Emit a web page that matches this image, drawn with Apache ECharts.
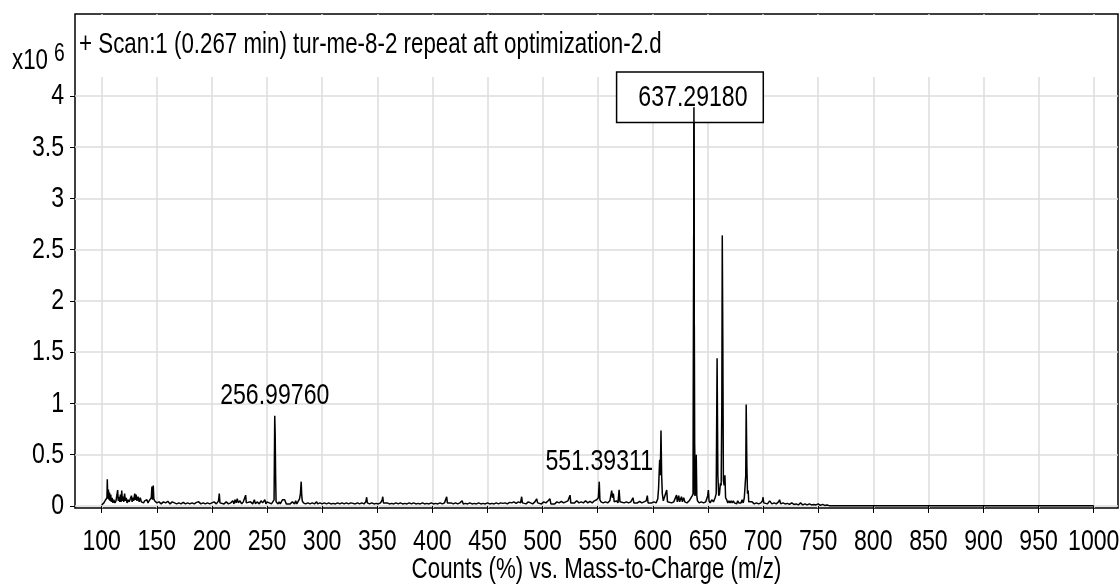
<!DOCTYPE html>
<html>
<head>
<meta charset="utf-8">
<script src="https://cdn.jsdelivr.net/npm/echarts@6/dist/echarts.min.js"></script>
<style>
  html, body { margin: 0; padding: 0; background: #fff; }
  #chart { width: 1120px; height: 587px; }
</style>
</head>
<body>
<div id="chart"></div>
<script>
// Mass spectrum, scan 1: counts (x10^6) against m/z
const FONT = '"Liberation Sans", Arial, sans-serif';

const mzTicks = [100, 150, 200, 250, 300, 350, 400, 450, 500, 550, 600, 650, 700, 750, 800, 850, 900, 950, 1000];
const countTicks = [0, 0.5, 1, 1.5, 2, 2.5, 3, 3.5, 4];
const annotatedPeaks = [256.99760, 551.39311];
const basePeak = 637.29180;

// profile points: [m/z, counts x10^6]
const profile = [
  [100, 0.01], [101, 0.02], [102, 0.03], [103, 0.05], [104, 0.04], [104.8, 0.08], [105.1, 0.26], [105.5, 0.07],
  [106.1, 0.16], [106.6, 0.06], [107.1, 0.13], [107.6, 0.05], [108.2, 0.11], [108.8, 0.04], [109.5, 0.08], [110.2, 0.03],
  [111, 0.06], [112, 0.03], [113, 0.05], [113.8, 0.04], [114.5, 0.155], [115, 0.05], [115.8, 0.09], [116.4, 0.04],
  [117, 0.11], [117.6, 0.04], [118.2, 0.15], [118.7, 0.05], [119.3, 0.09], [120, 0.04], [120.8, 0.12], [121.5, 0.05],
  [122.3, 0.08], [123, 0.03], [124, 0.06], [125, 0.04], [126, 0.05], [127, 0.1], [127.6, 0.04], [128.3, 0.08],
  [129, 0.05], [130, 0.12], [130.6, 0.06], [131.2, 0.11], [132, 0.05], [133, 0.09], [134, 0.04], [135, 0.08],
  [136, 0.04], [137, 0.05], [138, 0.03], [139, 0.05], [140, 0.04], [141, 0.06], [142, 0.03], [143, 0.05],
  [144, 0.04], [145, 0.08], [145.6, 0.19], [146.1, 0.06], [146.8, 0.2], [147.3, 0.07], [148, 0.05], [149, 0.04],
  [150, 0.03], [152, 0.04], [154, 0.02], [156, 0.04], [158, 0.03], [160, 0.045], [162, 0.02], [164, 0.04],
  [166, 0.03], [168, 0.02], [170, 0.03], [172, 0.02], [174, 0.035], [176, 0.02], [178, 0.03], [180, 0.02],
  [182, 0.03], [184, 0.02], [186, 0.035], [188, 0.04], [190, 0.02], [192, 0.03], [194, 0.02], [196, 0.03],
  [198, 0.02], [200, 0.03], [202, 0.04], [204, 0.02], [206, 0.05], [206.7, 0.12], [207.3, 0.03], [209, 0.03],
  [211, 0.02], [213, 0.04], [215, 0.02], [217, 0.03], [219, 0.05], [220, 0.02], [221, 0.06], [222, 0.03],
  [223, 0.07], [224, 0.03], [225.5, 0.05], [227, 0.02], [228.5, 0.04], [230, 0.03], [230.6, 0.105], [231.2, 0.03],
  [233, 0.02], [235, 0.04], [237, 0.02], [238.5, 0.06], [239.5, 0.02], [241, 0.04], [243, 0.02], [244.5, 0.05],
  [246, 0.03], [248, 0.06], [249, 0.02], [250, 0.04], [252, 0.03], [254, 0.02], [255.5, 0.03], [256.4, 0.06],
  [256.99760, 0.88], [257.4, 0.7], [257.8, 0.3], [258.2, 0.04], [259, 0.03], [260, 0.02], [261, 0.04], [262, 0.02],
  [263, 0.04], [264, 0.06], [265, 0.06], [266, 0.06], [267, 0.06], [267.5, 0.02], [269, 0.03], [271, 0.02],
  [273, 0.04], [275, 0.02], [276, 0.05], [277, 0.02], [278.5, 0.05], [279.5, 0.07], [280.3, 0.12], [281, 0.237],
  [281.5, 0.1], [282, 0.05], [283, 0.03], [285, 0.02], [287, 0.03], [289, 0.02], [291, 0.03], [293, 0.02],
  [295, 0.04], [296, 0.02], [298, 0.03], [300, 0.02], [302, 0.03], [304, 0.02], [306, 0.03], [308, 0.02],
  [310, 0.025], [312, 0.02], [314, 0.03], [316, 0.02], [318, 0.03], [320, 0.02], [322, 0.03], [324, 0.02],
  [326, 0.03], [328, 0.025], [330, 0.02], [332, 0.03], [334, 0.02], [336, 0.03], [338, 0.02], [339.6, 0.04],
  [340.4, 0.085], [341, 0.03], [343, 0.02], [345, 0.03], [347, 0.02], [349, 0.025], [351, 0.02], [353, 0.03],
  [354.5, 0.06], [355, 0.09], [355.6, 0.03], [357, 0.02], [359, 0.03], [361, 0.02], [363, 0.025], [365, 0.02],
  [367, 0.03], [369, 0.02], [371, 0.03], [373, 0.02], [375, 0.025], [377, 0.02], [379, 0.03], [381, 0.02],
  [383, 0.03], [385, 0.02], [387, 0.025], [389, 0.02], [391, 0.03], [393, 0.02], [395, 0.025], [397, 0.02],
  [399, 0.03], [401, 0.02], [403, 0.025], [405, 0.02], [407, 0.03], [409, 0.02], [411, 0.03], [412.4, 0.04],
  [413, 0.09], [413.6, 0.03], [415, 0.02], [417, 0.03], [419, 0.02], [421, 0.03], [423, 0.02], [425, 0.03],
  [427, 0.05], [428, 0.02], [430, 0.025], [432, 0.02], [434, 0.03], [436, 0.02], [438, 0.025], [440, 0.02],
  [442, 0.03], [444, 0.02], [446, 0.025], [448, 0.02], [450, 0.03], [452, 0.02], [454, 0.025], [456, 0.02],
  [458, 0.03], [460, 0.02], [462, 0.03], [464, 0.025], [466, 0.03], [468, 0.02], [470, 0.035], [472, 0.03],
  [474, 0.04], [476, 0.025], [478, 0.04], [480, 0.03], [481, 0.09], [481.7, 0.03], [483, 0.04], [485, 0.02],
  [487, 0.04], [489, 0.03], [491, 0.02], [493, 0.04], [494.6, 0.07], [495.5, 0.03], [497, 0.04], [499, 0.02],
  [501, 0.04], [503, 0.03], [505, 0.05], [506.7, 0.07], [507.5, 0.02], [509, 0.03], [511, 0.02], [513, 0.04],
  [515, 0.03], [517, 0.045], [519, 0.03], [521, 0.04], [523, 0.05], [524.9, 0.105], [525.6, 0.03], [527, 0.04],
  [529, 0.03], [531, 0.05], [533, 0.03], [535, 0.04], [537, 0.03], [539, 0.05], [541, 0.03], [543, 0.045],
  [545, 0.03], [547, 0.05], [549, 0.06], [550.6, 0.08], [551.39311, 0.237], [552, 0.06], [553, 0.04], [555, 0.03],
  [557, 0.04], [559, 0.03], [561, 0.05], [562.7, 0.15], [563.4, 0.08], [564.2, 0.12], [565, 0.04], [567, 0.05],
  [568.4, 0.03], [569.4, 0.157], [570.2, 0.04], [572, 0.05], [574, 0.03], [576, 0.04], [578, 0.03], [580, 0.04],
  [582, 0.08], [582.8, 0.03], [584, 0.04], [586, 0.03], [588, 0.045], [590, 0.03], [592, 0.04], [594, 0.05],
  [595, 0.1], [595.7, 0.03], [597, 0.04], [599, 0.03], [601, 0.04], [603, 0.03], [604.5, 0.07], [605.2, 0.17],
  [606.2, 0.45], [606.8, 0.3], [607.4, 0.735], [608, 0.3], [608.6, 0.12], [609.5, 0.05], [611, 0.04], [612.6, 0.156],
  [613.3, 0.04], [615, 0.05], [617, 0.03], [619, 0.04], [621.5, 0.107], [622.2, 0.04], [623.5, 0.1], [624.3, 0.04],
  [626, 0.09], [626.8, 0.04], [628, 0.08], [629, 0.04], [631, 0.03], [633, 0.05], [634.5, 0.04], [635.8, 0.1],
  [636.7, 0.12], [637.29180, 3.89], [637.8, 0.6], [638.3, 0.1], [638.9, 0.2], [639.4, 0.5], [639.9, 0.1], [640.5, 0.05],
  [642, 0.03], [644, 0.04], [646, 0.03], [648, 0.04], [649.8, 0.1], [650.4, 0.156], [651, 0.05], [652, 0.03],
  [653.5, 0.06], [655, 0.04], [656.5, 0.08], [657.5, 0.12], [658.3, 1.44], [659, 0.3], [659.8, 0.1], [660.5, 0.12],
  [661.3, 0.22], [662, 0.2], [662.6, 1.0], [663, 2.64], [663.5, 1.6], [664, 0.25], [664.7, 0.2], [665.4, 0.3],
  [666, 0.08], [667, 0.06], [668, 0.03], [669, 0.05], [670, 0.03], [671, 0.05], [672, 0.03], [673, 0.05],
  [674, 0.03], [675, 0.04], [676, 0.02], [677, 0.05], [678, 0.03], [679, 0.04], [680, 0.03], [681, 0.06],
  [682, 0.03], [683, 0.08], [684.3, 0.3], [684.7, 0.99], [685.3, 0.4], [685.9, 0.12], [686.5, 0.15], [687, 0.04],
  [688, 0.03], [690, 0.04], [692, 0.02], [694, 0.03], [696, 0.02], [698, 0.03], [699.5, 0.05], [700, 0.085],
  [700.6, 0.03], [702, 0.04], [704, 0.02], [706, 0.05], [708, 0.02], [710, 0.03], [712, 0.02], [714, 0.04],
  [715, 0.06], [716, 0.02], [718, 0.03], [720, 0.02], [722, 0.025], [724, 0.015], [726, 0.03], [728, 0.015],
  [730, 0.02], [732, 0.01], [734, 0.03], [736, 0.01], [738, 0.02], [740, 0.01], [742, 0.02], [744, 0.01],
  [746, 0.015], [748, 0.01], [750, 0.02], [752, 0.005], [754, 0.015], [756, 0.005], [758, 0.01], [760, 0.003],
  [770, 0.002], [771, 0.012], [772, 0.002], [780, 0.002], [781, 0.01], [782, 0.002], [789, 0.002], [790, 0.01],
  [791, 0.002], [795, 0.002], [796, 0.012], [797, 0.002], [815, 0.002], [816, 0.01], [817, 0.002], [918, 0.002],
  [919.5, 0.015], [921, 0.002], [1000, 0.002]
];

// Narrow lettering: every canvas text run is drawn and measured condensed horizontally
const TEXT_STRETCH = 0.77;
(function condenseCanvasText() {
  const proto = CanvasRenderingContext2D.prototype;
  const fill = proto.fillText;
  const stroke = proto.strokeText;
  const measure = proto.measureText;
  proto.fillText = function (text, x, y) {
    this.save();
    this.translate(x, y);
    this.scale(TEXT_STRETCH, 1);
    fill.call(this, text, 0, 0);
    this.restore();
  };
  proto.strokeText = function (text, x, y) {
    this.save();
    this.translate(x, y);
    this.scale(TEXT_STRETCH, 1);
    stroke.call(this, text, 0, 0);
    this.restore();
  };
  proto.measureText = function (text) {
    const m = measure.call(this, text);
    return {
      width: m.width * TEXT_STRETCH,
      actualBoundingBoxLeft: m.actualBoundingBoxLeft * TEXT_STRETCH,
      actualBoundingBoxRight: m.actualBoundingBoxRight * TEXT_STRETCH,
      actualBoundingBoxAscent: m.actualBoundingBoxAscent,
      actualBoundingBoxDescent: m.actualBoundingBoxDescent,
      fontBoundingBoxAscent: m.fontBoundingBoxAscent,
      fontBoundingBoxDescent: m.fontBoundingBoxDescent
    };
  };
})();

const findPoint = mz => profile.find(p => p[0] === mz);

const peakLabel = {
  show: true,
  position: 'top',
  distance: 8,
  color: '#000',
  fontFamily: FONT,
  fontSize: 30,
  formatter: p => p.data.coord[0].toFixed(5)
};

const markData = annotatedPeaks.map(mz => ({ coord: findPoint(mz), label: peakLabel }));
markData.push({
  coord: findPoint(basePeak),
  label: Object.assign({}, peakLabel, {
    position: 'inside',
    offset: [-4, -10],
    lineHeight: 30,
    backgroundColor: '#fff',
    borderColor: '#000',
    borderWidth: 1.5,
    padding: [9, 15, 10, 21]
  })
});

// the tallest peak is redrawn on top so its line crosses the label box
const peakOverlay = profile.filter(p => p[0] > 636 && p[0] < 638.5);

const chart = echarts.init(document.getElementById('chart'), null, { renderer: 'canvas' });

chart.setOption({
  animation: false,
  backgroundColor: '#fff',
  textStyle: { fontFamily: FONT },
  title: {
    text: '+ Scan:1 (0.267 min) tur-me-8-2 repeat aft optimization-2.d',
    left: 79,
    top: 34,
    padding: 0,
    z: 10,
    textStyle: { fontFamily: FONT, fontSize: 29, fontWeight: 'normal', color: '#000' }
  },
  grid: {
    left: 75, right: 2, top: 14, bottom: 79,
    outerBoundsMode: 'none',
    containLabel: false,
    show: true,
    borderColor: '#000',
    borderWidth: 1.5,
    backgroundColor: 'transparent'
  },
  xAxis: {
    type: 'value',
    min: 75.8,
    max: 1022,
    offset: 3,
    axisLine: { show: false },
    axisTick: { show: true, length: 7, lineStyle: { color: '#000', width: 1 }, customValues: mzTicks },
    axisLabel: {
      customValues: mzTicks,
      formatter: v => String(v),
      color: '#000', fontFamily: FONT, fontSize: 30, margin: 19, hideOverlap: false
    },
    splitLine: { show: true, lineStyle: { color: '#dcdcdc', width: 1.5 } },
    name: 'Counts (%) vs. Mass-to-Charge (m/z)',
    nameLocation: 'middle',
    nameGap: 48,
    nameTextStyle: { color: '#000', fontFamily: FONT, fontSize: 29 }
  },
  yAxis: {
    type: 'value',
    min: -0.02,
    max: 4.8,
    axisLine: { show: false },
    axisTick: { show: true, length: 5, lineStyle: { color: '#000', width: 1 }, customValues: countTicks },
    axisLabel: { customValues: countTicks, color: '#000', fontFamily: FONT, fontSize: 30, margin: 11 },
    splitLine: { show: true, lineStyle: { color: '#dcdcdc', width: 1.5 } }
  },
  graphic: [
    {
      type: 'rect',
      z: 1,
      shape: { x: 76, y: 15, width: 1041, height: 62 },
      style: { fill: '#fff' }
    },
    {
      type: 'text',
      z: 10,
      x: 12,
      y: 61,
      style: { text: 'x10', fill: '#000', font: '29px ' + FONT, verticalAlign: 'middle' }
    },
    {
      type: 'text',
      z: 10,
      x: 54,
      y: 54,
      style: { text: '6', fill: '#000', font: '25px ' + FONT, verticalAlign: 'middle' }
    }
  ],
  series: [
    {
      type: 'line',
      data: profile,
      showSymbol: false,
      symbol: 'none',
      lineStyle: { color: '#000', width: 1.5 },
      z: 3,
      markPoint: {
        symbol: 'circle',
        symbolSize: 0,
        silent: true,
        itemStyle: { color: 'transparent' },
        data: markData
      }
    },
    {
      type: 'line',
      data: peakOverlay,
      showSymbol: false,
      symbol: 'none',
      lineStyle: { color: '#000', width: 1.5 },
      z: 20,
      silent: true
    }
  ]
});
</script>
</body>
</html>
